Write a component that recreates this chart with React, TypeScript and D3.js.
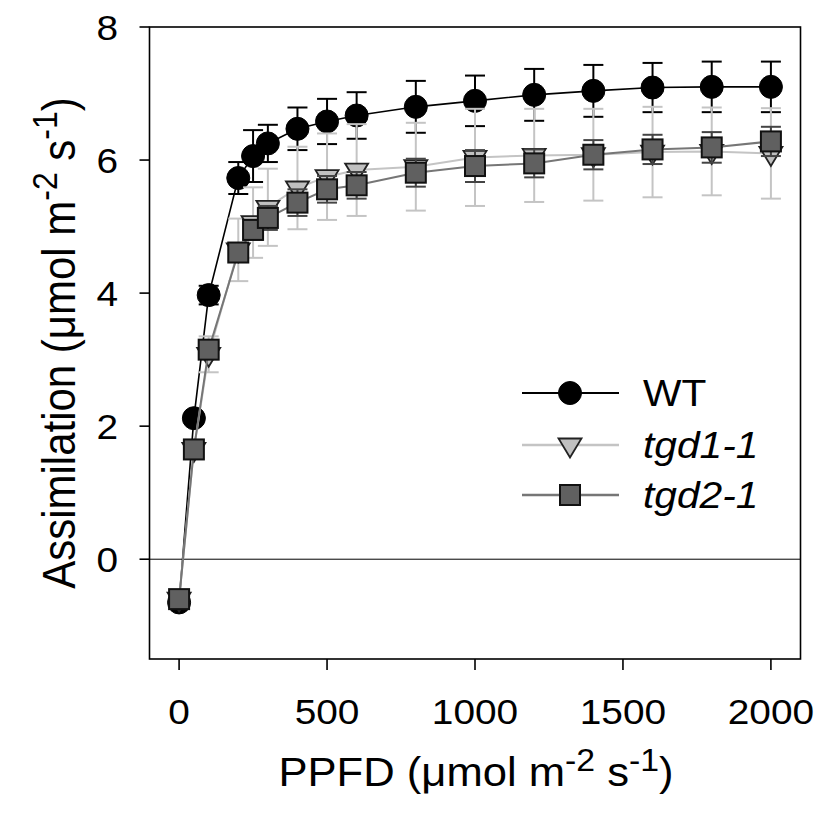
import React from "react";
import * as d3 from "d3";

const ppfd = [0, 50, 100, 200, 250, 300, 400, 500, 600, 800, 1000, 1200, 1400, 1600, 1800, 2000];
const wtMean = [-0.65, 2.12, 3.97, 5.73, 6.06, 6.25, 6.47, 6.58, 6.67, 6.8, 6.89, 6.98, 7.04, 7.09, 7.1, 7.1];
const wtErr = [0.05, 0.08, 0.14, 0.24, 0.39, 0.28, 0.32, 0.34, 0.35, 0.39, 0.38, 0.39, 0.39, 0.37, 0.38, 0.38];
const tgd1Mean = [-0.6, 1.65, 3.08, 4.65, 5.06, 5.29, 5.58, 5.75, 5.85, 5.9, 6.04, 6.07, 6.08, 6.12, 6.13, 6.1];
const tgd1Err = [0.05, 0.06, 0.27, 0.47, 0.53, 0.58, 0.62, 0.65, 0.69, 0.66, 0.73, 0.7, 0.69, 0.68, 0.66, 0.68];
const tgd2Mean = [-0.6, 1.65, 3.15, 4.61, 4.95, 5.13, 5.36, 5.56, 5.62, 5.81, 5.91, 5.95, 6.08, 6.16, 6.19, 6.28];
const tgd2Err = [0.05, 0.06, 0.1, 0.12, 0.15, 0.18, 0.2, 0.2, 0.2, 0.21, 0.24, 0.21, 0.22, 0.22, 0.23, 0.22];

const xTickValues = [0, 500, 1000, 1500, 2000];
const yTickValues = [0, 2, 4, 6, 8];
const seriesNames = ["WT", "tgd1-1", "tgd2-1"];

const FONT = "'Liberation Sans', Arial, sans-serif";
const SX = 1.11; // horizontal stretch of the reference's lettering

type Marker = "circle" | "triangle" | "square";

function MarkerShape({ kind, cx, cy, fill, stroke }: { kind: Marker; cx: number; cy: number; fill: string; stroke: string }) {
  if (kind === "circle") return <circle cx={cx} cy={cy} r={11.5} fill={fill} stroke={stroke} strokeWidth={1} />;
  if (kind === "square")
    return <rect x={cx - 10} y={cy - 10} width={20} height={20} fill={fill} stroke={stroke} strokeWidth={2} />;
  const p = `M${cx - 11.5},${cy - 6.5}L${cx + 11.5},${cy - 6.5}L${cx},${cy + 12.5}Z`;
  return <path d={p} fill={fill} stroke={stroke} strokeWidth={1.8} strokeLinejoin="miter" />;
}

function UnitTitle({ main, size, sup }: { main: string; size: number; sup: number }) {
  const rise = size * 0.38;
  return (
    <>
      {main} (μmol m
      <tspan dy={-rise} fontSize={sup}>-2</tspan>
      <tspan dy={rise}> s</tspan>
      <tspan dy={-rise} fontSize={sup}>-1</tspan>
      <tspan dy={rise}>)</tspan>
    </>
  );
}

export default function App() {
  const x = d3.scaleLinear().domain([-100, 2100]).range([149.5, 800.5]);
  const y = d3.scaleLinear().domain([-1.5, 8]).range([659, 27]);

  const series = [
    { name: seriesNames[0], mean: wtMean, err: wtErr, line: "#000000", lw: 1.6, errColor: "#000000", marker: "circle" as Marker, fill: "#000000", stroke: "#000000", italic: false },
    { name: seriesNames[1], mean: tgd1Mean, err: tgd1Err, line: "#c4c4c4", lw: 2, errColor: "#c4c4c4", marker: "triangle" as Marker, fill: "#c0c0c0", stroke: "#222222", italic: true },
    { name: seriesNames[2], mean: tgd2Mean, err: tgd2Err, line: "#767676", lw: 2, errColor: "#444444", marker: "square" as Marker, fill: "#606060", stroke: "#111111", italic: true },
  ];

  const lineGen = d3
    .line<number>()
    .x((_, i) => x(ppfd[i]))
    .y((d) => y(d));

  const [x0, x1] = x.range();
  const [yb, yt] = y.range();

  const legendRows = [393, 445, 495];

  return (
    <svg width={822} height={820} style={{ position: "absolute", left: 0, top: 0, background: "#fff" }} fontFamily={FONT}>
      <rect x={0} y={0} width={822} height={820} fill="#ffffff" />
      <line x1={x0} x2={x1} y1={y(0)} y2={y(0)} stroke="#000" strokeWidth={1} />

      {series.map((s) => (
        <g key={s.name}>
          <path d={lineGen(s.mean) || ""} fill="none" stroke={s.line} strokeWidth={s.lw} />
          {s.mean.map((v, i) => {
            const cx = x(ppfd[i]);
            const ytop = y(v + s.err[i]);
            const ybot = y(v - s.err[i]);
            return (
              <g key={i} stroke={s.errColor} strokeWidth={2}>
                <line x1={cx} x2={cx} y1={ytop} y2={ybot} />
                <line x1={cx - 10} x2={cx + 10} y1={ytop} y2={ytop} />
                <line x1={cx - 10} x2={cx + 10} y1={ybot} y2={ybot} />
              </g>
            );
          })}
          {s.mean.map((v, i) => (
            <MarkerShape key={"m" + i} kind={s.marker} cx={x(ppfd[i])} cy={y(v)} fill={s.fill} stroke={s.stroke} />
          ))}
        </g>
      ))}

      <rect x={x0} y={yt} width={x1 - x0} height={yb - yt} fill="none" stroke="#000" strokeWidth={1.6} />

      {yTickValues.map((t) => (
        <g key={"y" + t}>
          <line x1={x0 - 10} x2={x0} y1={y(t)} y2={y(t)} stroke="#000" strokeWidth={1.6} />
          <text transform={`translate(118,${y(t)}) scale(${SX},1)`} dy="0.36em" textAnchor="end" fontSize={35} fill="#000">
            {t}
          </text>
        </g>
      ))}
      {xTickValues.map((t) => (
        <g key={"x" + t}>
          <line x1={x(t)} x2={x(t)} y1={yb} y2={yb + 11} stroke="#000" strokeWidth={1.6} />
          <text transform={`translate(${x(t)},724) scale(${SX},1)`} textAnchor="middle" fontSize={35} fill="#000">
            {t}
          </text>
        </g>
      ))}

      <text transform={`translate(476,786) scale(1.09,1)`} textAnchor="middle" fontSize={40} fill="#000">
        <UnitTitle main="PPFD" size={40} sup={31} />
      </text>
      <text transform={`translate(75,343) rotate(-90) scale(1,1.1)`} textAnchor="middle" fontSize={42} fill="#000">
        <UnitTitle main="Assimilation" size={42} sup={32} />
      </text>

      {series.map((s, i) => (
        <g key={"lg" + s.name}>
          <line x1={522} x2={619} y1={legendRows[i]} y2={legendRows[i]} stroke={s.line} strokeWidth={s.lw + 0.4} />
          <MarkerShape kind={s.marker} cx={570} cy={legendRows[i]} fill={s.fill} stroke={s.stroke} />
          <text transform={`translate(643,${legendRows[i]}) scale(1.1,1)`} dy="0.36em" fontSize={37} fontStyle={s.italic ? "italic" : "normal"} fill="#000">
            {s.name}
          </text>
        </g>
      ))}
    </svg>
  );
}
